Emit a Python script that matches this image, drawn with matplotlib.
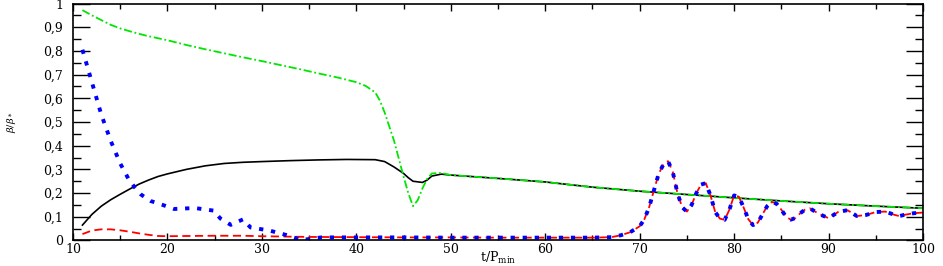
import numpy as np
import matplotlib
matplotlib.use('Agg')
import matplotlib.pyplot as plt
from matplotlib.ticker import MultipleLocator, FuncFormatter

plt.rcParams['font.family'] = ['DejaVu Serif']
plt.rcParams['mathtext.fontset'] = 'dejavuserif'

# black solid curve
t_black = [11, 12, 13, 14, 15, 16, 17, 18, 19, 20, 22, 24, 26, 28, 30, 33, 36, 39, 42,
           43, 44, 45, 45.5, 46, 47, 47.5, 48, 49, 50]
v_black = [0.065, 0.11, 0.145, 0.172, 0.195, 0.217, 0.238, 0.255, 0.27, 0.281, 0.3, 0.315,
           0.325, 0.33, 0.333, 0.337, 0.34, 0.342, 0.341,
           0.333, 0.31, 0.283, 0.265, 0.25, 0.245, 0.255, 0.272, 0.28, 0.276]

# green dash-dot curve
t_green = [11, 12, 13, 14, 15, 16, 17, 18, 20, 22, 24, 26, 28, 30, 32, 34, 36, 38, 40, 41,
           42, 42.5, 43, 43.5, 44, 44.5, 45, 45.5, 46, 46.5, 47, 47.5, 48, 49, 50]
v_green = [0.972, 0.95, 0.93, 0.91, 0.895, 0.883, 0.872, 0.862, 0.845, 0.825, 0.807, 0.79,
           0.773, 0.757, 0.74, 0.723, 0.705, 0.688, 0.668, 0.652,
           0.625, 0.59, 0.54, 0.48, 0.42, 0.345, 0.27, 0.2, 0.145, 0.17, 0.22, 0.26, 0.283,
           0.285, 0.276]

# common tail of black and green
t_tail = [55, 60, 65, 70, 75, 80, 85, 90, 95, 100]
v_tail = [0.262, 0.247, 0.225, 0.208, 0.194, 0.18, 0.167, 0.155, 0.145, 0.136]

# red dashed curve (before the oscillations)
t_red = [11, 12, 13, 14, 15, 16, 17, 18, 19, 20, 22, 25, 28, 30, 35, 40, 45, 50, 55, 60, 65]
v_red = [0.027, 0.042, 0.047, 0.047, 0.043, 0.037, 0.03, 0.024, 0.019, 0.018, 0.019, 0.02,
         0.02, 0.018, 0.015, 0.014, 0.013, 0.013, 0.012, 0.012, 0.012]

# blue dotted curve (before the oscillations)
t_blue = [11, 12, 13, 14, 15, 15.9, 16.5, 17.2, 18.2, 19.5, 20.7, 22.9, 24.9, 25.6, 26.7,
          28.0, 28.8, 30.8, 32.6, 34.2, 36.3, 40, 45, 50, 55, 60, 65]
v_blue = [0.805, 0.668, 0.531, 0.42, 0.325, 0.258, 0.226, 0.194, 0.167, 0.15, 0.133, 0.137,
          0.126, 0.093, 0.066, 0.089, 0.055, 0.042, 0.023, 0.002, 0.013, 0.013, 0.013, 0.012,
          0.012, 0.012, 0.012]

# oscillations shared by red and blue
t_osc = [67, 68, 69, 70, 70.5, 71, 71.5, 72, 72.5, 73, 73.5, 74, 74.5, 75, 75.5, 76, 76.5,
         77, 77.5, 78, 78.5, 79, 79.5, 80, 80.5, 81, 81.5, 82, 82.5, 83, 83.5, 84, 84.5, 85,
         85.5, 86, 86.5, 87, 87.5, 88, 89, 90, 91, 92, 93, 94, 95, 96, 97, 97.5, 98, 99, 100]
v_osc = [0.014, 0.022, 0.035, 0.06, 0.09, 0.14, 0.21, 0.28, 0.32, 0.335, 0.29, 0.2, 0.14,
         0.122, 0.15, 0.2, 0.236, 0.242, 0.19, 0.12, 0.092, 0.087, 0.13, 0.19, 0.185, 0.14,
         0.09, 0.065, 0.075, 0.11, 0.145, 0.163, 0.155, 0.13, 0.1, 0.088, 0.095, 0.115, 0.13,
         0.136, 0.112, 0.094, 0.12, 0.128, 0.103, 0.108, 0.12, 0.122, 0.108, 0.103, 0.108,
         0.115, 0.118]

fig = plt.figure(figsize=(9.43, 2.66), dpi=100)
ax = fig.add_axes([0.0774, 0.0959, 0.9014, 0.8909])

ax.plot(t_black + t_tail, v_black + v_tail, '-', color='black', lw=1.2)
ax.plot(t_green + t_tail, v_green + v_tail, color='#00e600', lw=1.3,
        dashes=(4.5, 1.5, 1, 1.5))
ax.plot(t_red + t_osc, v_red + v_osc, color='red', lw=1.3, dashes=(4.5, 2.5))
ax.plot(t_blue + t_osc, v_blue + v_osc, color='#0000ff', lw=2.8, dashes=(1.1, 2.0),
        dash_capstyle='butt')

ax.set_xlim(10, 100)
ax.set_ylim(0, 1)
ax.xaxis.set_major_locator(MultipleLocator(10))
ax.xaxis.set_minor_locator(MultipleLocator(5))
ax.yaxis.set_major_locator(MultipleLocator(0.1))
ax.yaxis.set_minor_locator(MultipleLocator(0.05))

def ylab(v, pos):
    if abs(v) < 1e-9:
        return '0'
    if abs(v - 1) < 1e-9:
        return '1'
    return ('%.1f' % v).replace('.', ',')

ax.yaxis.set_major_formatter(FuncFormatter(ylab))
ax.tick_params(axis='both', which='both', direction='in', top=True, right=True,
               labelsize=9, width=1)
ax.tick_params(axis='y', which='major', length=12, pad=7)
ax.tick_params(axis='y', which='minor', length=6)
ax.tick_params(axis='x', which='major', length=5, pad=2)
ax.tick_params(axis='x', which='minor', length=3.5)
for s in ax.spines.values():
    s.set_linewidth(1.2)

ax.set_xlabel(r't/P$_{\mathrm{min}}$', fontsize=9)
ax.xaxis.set_label_coords(0.5, -0.04)
ax.xaxis.label.set_verticalalignment('top')
ax.set_ylabel(r'$\beta/\beta_*$', fontsize=7)
ax.yaxis.set_label_coords(-0.065, 0.5)

fig.savefig('out.png', dpi=100)
